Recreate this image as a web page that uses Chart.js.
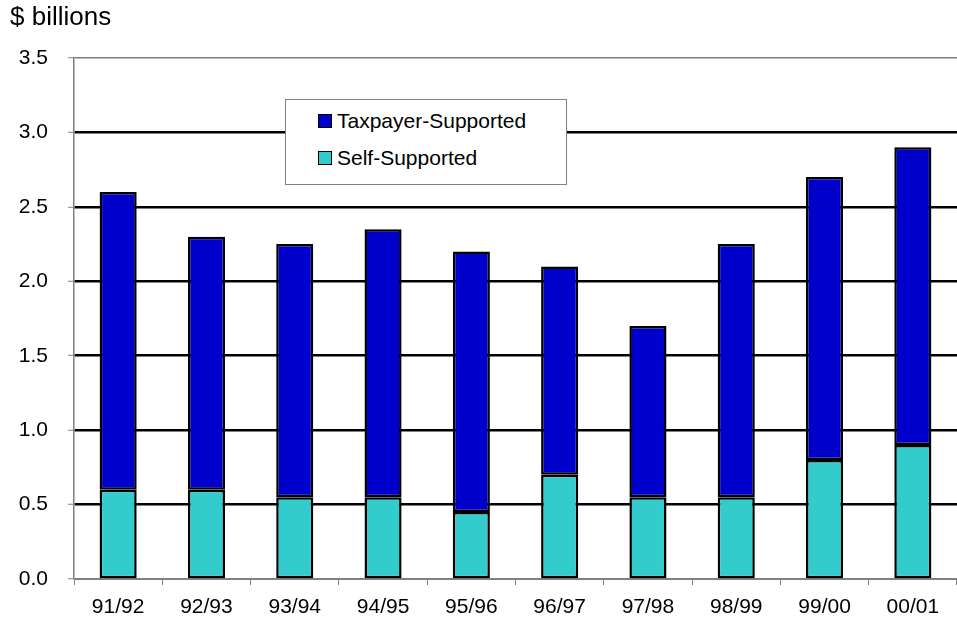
<!DOCTYPE html>
<html>
<head>
<meta charset="utf-8">
<script src="https://cdn.jsdelivr.net/npm/chart.js@4/dist/chart.umd.min.js"></script>
<style>
  html, body { margin: 0; padding: 0; background: #fff; }
  #wrap { position: relative; width: 957px; height: 625px; }
  #legend {
    position: absolute; left: 285px; top: 99px; width: 282px; height: 86px;
    border: 1px solid #808080; background: #fff; box-sizing: border-box;
    font: 21px "Liberation Sans", Arial, sans-serif; color: #000;
  }
  .row { position: absolute; left: 32px; display: flex; align-items: center; }
  .sw { width: 12px; height: 12px; border: 1.5px solid #000; margin-right: 5px; }
</style>
</head>
<body>
<div id="wrap">
  <canvas id="c" width="957" height="625"></canvas>
  <div id="legend">
    <div class="row" style="top:9px"><span class="sw" style="background:#0000CC"></span>Taxpayer-Supported</div>
    <div class="row" style="top:46px"><span class="sw" style="background:#33CCCC"></span>Self-Supported</div>
  </div>
</div>
<script>
// Fiscal years along the x axis
const years = ["91/92", "92/93", "93/94", "94/95", "95/96", "96/97", "97/98", "98/99", "99/00", "00/01"];
// $ billions (stacked: self at the bottom)
const selfSupported = [0.6, 0.6, 0.55, 0.55, 0.45, 0.7, 0.55, 0.55, 0.8, 0.9];
const taxpayerSupported = [2.0, 1.7, 1.7, 1.8, 1.75, 1.4, 1.15, 1.7, 1.9, 2.0];

const FONT = { family: "'Liberation Sans', Arial, sans-serif", size: 21 };
const GRAY = "#808080";

// "$ billions" caption above the y axis
const unitLabel = {
  id: "unitLabel",
  afterDraw(chart) {
    const ctx = chart.ctx;
    ctx.save();
    ctx.font = `26px ${FONT.family}`;
    ctx.fillStyle = "#000";
    ctx.textBaseline = "middle";
    ctx.fillText("$ billions", 10, 18);
    ctx.restore();
  },
};

new Chart(document.getElementById("c"), {
  type: "bar",
  data: {
    labels: years,
    datasets: [
      { label: "Self-Supported", data: selfSupported, backgroundColor: "#33CCCC",
        borderColor: "#000", borderWidth: 2.5, borderSkipped: false },
      { label: "Taxpayer-Supported", data: taxpayerSupported, backgroundColor: "#0000CC",
        borderColor: "#000", borderWidth: 2.5, borderSkipped: false },
    ],
  },
  options: {
    responsive: false,
    animation: false,
    layout: { padding: { top: 58, left: 0, right: 0, bottom: 0 } },
    datasets: { bar: { barPercentage: 0.42, categoryPercentage: 1 } },
    plugins: { legend: { display: false }, tooltip: { enabled: false } },
    scales: {
      x: {
        stacked: true,
        grid: { offset: true, drawOnChartArea: false, tickLength: 6, tickColor: GRAY, tickWidth: 1 },
        border: { color: GRAY, width: 1 },
        ticks: { color: "#000", font: FONT, padding: 10, maxRotation: 0 },
        afterFit: (s) => { s.height = 46; },
      },
      y: {
        stacked: true,
        min: 0, max: 3.5,
        grid: {
          color: (c) => (c.tick && c.tick.value > 0 && c.tick.value < 3.5 ? "#000" : GRAY),
          lineWidth: (c) => (c.tick && c.tick.value > 0 && c.tick.value < 3.5 ? 2.5 : 1.5),
          tickLength: 6, tickColor: GRAY, tickWidth: 1,
        },
        border: { color: GRAY, width: 1.5 },
        ticks: { stepSize: 0.5, color: "#000", font: FONT, padding: 20,
                 callback: (v) => Number(v).toFixed(1) },
        afterFit: (s) => { s.width = 74; },
      },
    },
  },
  plugins: [unitLabel],
});
</script>
</body>
</html>
